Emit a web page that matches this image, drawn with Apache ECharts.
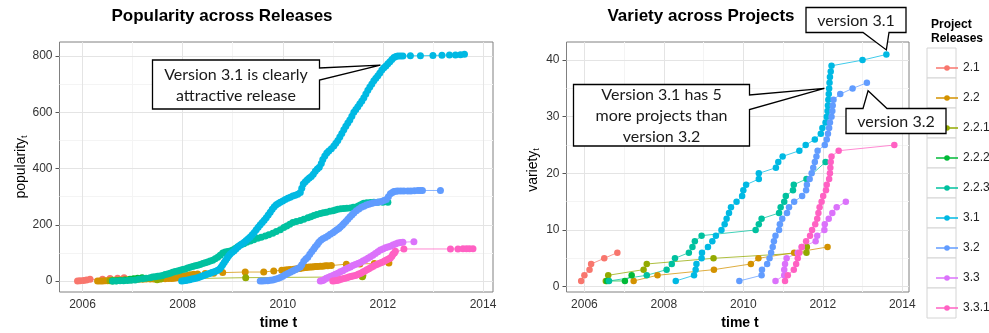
<!DOCTYPE html>
<html>
<head>
<meta charset="utf-8">
<script src="https://cdn.jsdelivr.net/npm/echarts@6/dist/echarts.min.js"></script>
<style>
  html, body { margin: 0; padding: 0; background: #fff; }
  #chart { width: 989px; height: 333px; }
</style>
</head>
<body>
<div id="chart"></div>
<script>
const releases = ['2.1', '2.2', '2.2.1', '2.2.2', '2.2.3', '3.1', '3.2', '3.3', '3.3.1'];
const colors = ['#F8766D', '#D39200', '#93AA00', '#00BA38', '#00C19F', '#00B9E3', '#619CFF', '#DB72FB', '#FF61C3'];

// popularity_t, [year, value]
const pop21 = [[2005.9,0],[2005.95,1],[2006.02,2],[2006.08,4],[2006.15,6],[2006.4,6],[2006.55,9],[2006.7,10],[2006.83,12]];
const pop22 = [[2006.3,0],[2006.35,0],[2006.4,0],[2006.45,1],[2006.5,1],[2006.55,2],[2006.6,3],[2006.67,3],[2006.75,4],[2006.82,4],
  [2006.9,5],[2006.97,5],[2007.05,6],[2007.12,6],[2007.2,6],[2007.27,7],[2007.35,7],[2007.42,7],[2007.5,7],[2007.57,8],[2007.65,8],
  [2007.72,9],[2007.78,9],[2007.83,10],[2007.88,12],[2007.92,13],[2007.96,15],[2008.0,17],[2008.05,19],[2008.1,20],[2008.15,22],
  [2008.22,24],[2008.3,25],[2008.45,27],[2008.62,28],[2008.8,30],[2009.25,32],[2009.62,32],[2009.82,36],[2009.98,38],[2010.05,39],
  [2010.1,40],[2010.15,41],[2010.22,42],[2010.26,43],[2010.3,44],[2010.34,45],[2010.38,46],[2010.42,47],[2010.46,48],[2010.5,49],
  [2010.54,50],[2010.58,50],[2010.62,51],[2010.66,52],[2010.7,52],[2010.75,53],[2010.8,53],[2010.85,54],[2010.9,54],[2010.97,55],
  [2011.27,60],[2011.54,61],[2011.83,62],[2012.12,64]];
const pop221 = [[2006.55,1],[2006.6,3],[2007.49,5],[2007.56,7],[2009.26,12],[2011.59,15],[2011.6,20]];
const pop222 = [[2006.6,0],[2006.68,1],[2006.75,2],[2006.85,4],[2006.95,6],[2007.02,8],[2007.1,10],[2007.19,12]];
const pop223 = [[2006.6,0],[2006.67,0],[2006.75,1],[2006.82,1],[2006.9,2],[2006.97,3],[2007.05,4],[2007.12,6],[2007.2,8],[2007.27,10],
  [2007.35,12],[2007.4,14],[2007.45,15],[2007.5,17],[2007.55,18],[2007.6,20],[2007.65,23],[2007.7,25],[2007.75,28],[2007.8,31],
  [2007.85,34],[2007.9,36],[2007.95,38],[2008.0,41],[2008.05,43],[2008.1,46],[2008.15,49],[2008.2,52],[2008.25,54],[2008.3,56],
  [2008.35,59],[2008.4,62],[2008.45,65],[2008.5,68],[2008.55,71],[2008.6,74],[2008.65,79],[2008.7,85],[2008.75,92],[2008.8,100],
  [2008.85,103],[2008.9,105],[2008.95,107],[2009.0,110],[2009.05,116],[2009.1,122],[2009.16,128],[2009.22,133],[2009.28,138],
  [2009.35,142],[2009.42,147],[2009.5,152],[2009.57,156],[2009.65,160],[2009.72,165],[2009.8,170],[2009.87,176],[2009.95,182],
  [2010.02,190],[2010.08,196],[2010.14,202],[2010.2,208],[2010.27,212],[2010.35,215],[2010.42,220],[2010.5,225],[2010.56,229],
  [2010.62,233],[2010.68,237],[2010.75,240],[2010.81,243],[2010.87,245],[2010.94,248],[2011.0,250],[2011.05,253],[2011.1,255],
  [2011.16,257],[2011.22,258],[2011.28,259],[2011.35,260],[2011.41,262],[2011.47,263],[2011.51,267],[2011.55,270],[2011.59,274],
  [2011.62,277],[2011.68,278],[2011.75,279],[2011.82,280],[2011.9,280],[2012.0,280],[2012.1,280]];
const pop31 = [[2007.98,0],[2008.02,1],[2008.06,2],[2008.1,4],[2008.14,5],[2008.18,7],[2008.22,8],[2008.26,10],[2008.3,12],
  [2008.34,14],[2008.38,17],[2008.42,20],[2008.46,22],[2008.5,25],[2008.54,27],[2008.58,30],[2008.62,32],[2008.66,35],[2008.7,38],
  [2008.74,43],[2008.77,50],[2008.8,58],[2008.83,66],[2008.86,74],[2008.89,82],[2008.92,90],[2008.95,96],[2008.99,102],[2009.03,108],
  [2009.07,115],[2009.11,122],[2009.15,128],[2009.19,133],[2009.23,138],[2009.27,144],[2009.31,150],[2009.35,157],[2009.39,165],
  [2009.43,173],[2009.47,182],[2009.51,191],[2009.55,200],[2009.59,208],[2009.63,216],[2009.67,225],[2009.71,235],[2009.75,245],
  [2009.79,255],[2009.83,264],[2009.87,271],[2009.91,276],[2009.95,280],[2010.0,285],[2010.05,290],[2010.1,294],[2010.15,298],
  [2010.2,302],[2010.25,305],[2010.3,309],[2010.35,315],[2010.38,330],[2010.41,345],[2010.45,353],[2010.49,360],[2010.53,366],
  [2010.57,372],[2010.61,380],[2010.65,390],[2010.69,398],[2010.73,405],[2010.77,418],[2010.8,432],[2010.84,445],[2010.88,455],
  [2010.92,462],[2010.97,470],[2011.02,480],[2011.06,490],[2011.1,500],[2011.14,512],[2011.18,525],[2011.22,538],[2011.26,550],
  [2011.3,562],[2011.34,573],[2011.38,586],[2011.42,600],[2011.46,610],[2011.5,620],[2011.54,630],[2011.58,640],[2011.62,652],
  [2011.66,665],[2011.7,678],[2011.74,690],[2011.78,701],[2011.82,712],[2011.86,721],[2011.9,730],[2011.94,740],[2011.98,750],
  [2012.02,758],[2012.06,765],[2012.1,773],[2012.14,780],[2012.18,788],[2012.22,795],[2012.26,798],[2012.3,800],[2012.35,800],
  [2012.4,800],[2012.55,801],[2012.75,801],[2013.0,802],[2013.18,803],[2013.33,804],[2013.45,804],[2013.55,805],[2013.63,806]];
const pop32 = [[2009.55,0],[2009.6,0],[2009.65,1],[2009.7,1],[2009.75,3],[2009.8,4],[2009.85,6],[2009.9,9],[2009.95,13],[2010.0,17],
  [2010.05,22],[2010.1,27],[2010.15,31],[2010.2,36],[2010.25,40],[2010.3,45],[2010.35,50],[2010.38,58],[2010.42,70],[2010.46,78],
  [2010.5,85],[2010.54,95],[2010.58,105],[2010.62,114],[2010.65,122],[2010.69,130],[2010.72,138],[2010.76,145],[2010.8,150],
  [2010.85,155],[2010.9,160],[2010.95,166],[2011.0,172],[2011.04,177],[2011.08,182],[2011.12,187],[2011.15,192],[2011.19,198],
  [2011.22,205],[2011.26,212],[2011.3,220],[2011.34,228],[2011.38,235],[2011.42,242],[2011.47,250],[2011.52,256],[2011.57,262],
  [2011.62,266],[2011.67,270],[2011.72,273],[2011.77,276],[2011.82,278],[2011.87,279],[2011.92,281],[2011.97,283],[2012.02,286],
  [2012.07,290],[2012.11,300],[2012.15,310],[2012.19,315],[2012.22,318],[2012.26,319],[2012.3,320],[2012.36,320],[2012.42,320],
  [2012.5,320],[2012.56,320],[2012.63,321],[2012.7,322],[2012.75,322],[2012.79,322],[2013.15,322]];
const pop33 = [[2010.75,0],[2010.78,1],[2010.81,3],[2010.84,6],[2010.87,10],[2010.91,13],[2010.95,16],[2011.0,20],[2011.05,24],
  [2011.1,28],[2011.15,33],[2011.2,37],[2011.25,42],[2011.3,46],[2011.35,50],[2011.4,55],[2011.45,59],[2011.5,62],[2011.55,66],
  [2011.6,71],[2011.65,76],[2011.7,81],[2011.75,86],[2011.8,92],[2011.85,98],[2011.9,104],[2011.95,110],[2012.0,114],[2012.05,118],
  [2012.1,121],[2012.15,124],[2012.2,128],[2012.25,132],[2012.3,135],[2012.35,137],[2012.4,138],[2012.62,140]];
const pop331 = [[2011.0,0],[2011.04,1],[2011.08,2],[2011.12,4],[2011.16,6],[2011.2,8],[2011.24,10],[2011.28,12],[2011.32,14],
  [2011.36,16],[2011.4,18],[2011.45,20],[2011.49,22],[2011.52,25],[2011.56,28],[2011.6,32],[2011.64,36],[2011.68,40],[2011.72,44],
  [2011.76,48],[2011.8,52],[2011.84,56],[2011.88,59],[2011.92,62],[2011.96,65],[2012.0,68],[2012.04,72],[2012.08,76],[2012.12,79],
  [2012.15,82],[2012.18,88],[2012.2,95],[2012.23,100],[2012.25,106],[2012.42,114],[2013.35,114],[2013.5,114],[2013.6,115],
  [2013.67,115],[2013.73,115],[2013.8,115]];

// variety_t, [year, value]
const var21 = [[2005.92,1],[2006.0,2],[2006.13,3],[2006.17,4],[2006.5,5],[2006.83,6]];
const var22 = [[2007.24,1],[2007.84,2],[2009.26,3],[2010.19,4],[2010.38,5],[2011.28,6],[2012.12,7]];
const var221 = [[2006.54,1],[2006.6,2],[2007.49,3],[2007.57,4],[2009.25,5],[2011.59,6],[2011.6,7]];
const var222 = [[2006.57,1],[2007.02,1],[2007.19,2]];
const var223 = [[2006.62,1],[2007.57,2],[2008.07,3],[2008.2,4],[2008.28,5],[2008.63,6],[2008.72,7],[2008.78,8],[2008.95,9],
  [2010.31,10],[2010.39,11],[2010.46,12],[2010.9,13],[2010.94,14],[2011.03,15],[2011.07,16],[2011.25,17],[2011.27,18],
  [2011.59,19],[2012.07,22]];
const var31 = [[2008.3,1],[2008.76,2],[2008.8,3],[2008.82,4],[2008.95,5],[2008.96,6],[2009.11,7],[2009.22,8],[2009.31,9],
  [2009.45,10],[2009.53,11],[2009.58,12],[2009.64,13],[2009.69,14],[2009.83,15],[2009.97,16],[2010.0,17],[2010.07,18],
  [2010.39,19],[2010.39,20],[2010.82,21],[2010.88,22],[2010.99,23],[2011.41,24],[2011.57,25],[2011.8,26],[2011.95,27],
  [2011.99,28],[2012.07,29],[2012.1,30],[2012.12,31],[2012.13,32],[2012.14,33],[2012.15,34],[2012.16,35],[2012.17,36],
  [2012.18,37],[2012.2,38],[2012.22,39],[2013.0,40],[2013.6,41]];
const var32 = [[2009.9,1],[2010.46,2],[2010.47,3],[2010.6,4],[2010.66,5],[2010.7,6],[2010.74,7],[2010.77,8],[2010.81,9],
  [2010.9,10],[2010.92,11],[2010.98,12],[2011.1,13],[2011.15,14],[2011.28,15],[2011.48,16],[2011.58,17],[2011.6,18],
  [2011.67,19],[2011.72,20],[2011.76,21],[2011.8,22],[2011.84,23],[2011.87,24],[2012.05,25],[2012.1,26],[2012.13,27],
  [2012.16,28],[2012.18,29],[2012.22,30],[2012.24,31],[2012.25,32],[2012.27,33],[2012.44,34],[2012.75,35],[2013.11,36]];
const var33 = [[2010.81,1],[2011.03,2],[2011.03,3],[2011.05,4],[2011.09,5],[2011.37,6],[2011.47,7],[2011.82,8],[2011.86,9],
  [2012.04,10],[2012.05,11],[2012.15,12],[2012.24,13],[2012.35,14],[2012.58,15]];
const var331 = [[2011.05,1],[2011.12,2],[2011.27,3],[2011.33,4],[2011.37,5],[2011.41,6],[2011.47,7],[2011.58,8],[2011.68,9],
  [2011.73,10],[2011.81,11],[2011.86,12],[2011.89,13],[2011.92,14],[2011.97,15],[2012.01,16],[2012.08,17],[2012.1,18],
  [2012.16,19],[2012.18,20],[2012.19,21],[2012.2,22],[2012.22,23],[2012.4,24],[2013.8,25]];

const popularity = [pop21, pop22, pop221, pop222, pop223, pop31, pop32, pop33, pop331];
const variety = [var21, var22, var221, var222, var223, var31, var32, var33, var331];

const yearTicks = [2006, 2008, 2010, 2012, 2014];
const yearMinor = [2007, 2009, 2011, 2013];
const popTicks = [0, 200, 400, 600, 800];
const popMinor = [100, 300, 500, 700];
const varTicks = [0, 10, 20, 30, 40];
const varMinor = [5, 15, 25, 35];

const FONT = 'Liberation Sans, Arial, sans-serif';
const NOTE_FONT = 'Lato, "Open Sans", sans-serif';

const chart = echarts.init(document.getElementById('chart'));

function gridLines(xMajor, xMinor, yMajor, yMinor) {
  const major = { color: '#e4e4e4', width: 1, type: 'solid' };
  const minor = { color: '#f4f4f4', width: 1, type: 'solid' };
  const data = [];
  xMinor.forEach(v => data.push({ xAxis: v, lineStyle: minor }));
  yMinor.forEach(v => data.push({ yAxis: v, lineStyle: minor }));
  xMajor.forEach(v => data.push({ xAxis: v, lineStyle: major }));
  yMajor.forEach(v => data.push({ yAxis: v, lineStyle: major }));
  return {
    silent: true,
    symbol: ['none', 'none'],
    label: { show: false },
    emphasis: { disabled: true },
    animation: false,
    z: 1,
    data: data
  };
}

function xAxisFor(idx, min, max) {
  return {
    type: 'value', gridIndex: idx, min: min, max: max,
    splitLine: { show: false },
    axisLine: { show: false },
    axisTick: { show: true, length: 4, customValues: yearTicks, lineStyle: { color: '#555' } },
    axisLabel: { customValues: yearTicks, color: '#333', fontSize: 12, fontFamily: FONT, margin: 7, formatter: v => String(v) }
  };
}

function yAxisFor(idx, min, max, ticks) {
  return {
    type: 'value', gridIndex: idx, min: min, max: max,
    splitLine: { show: false },
    axisLine: { show: false },
    axisTick: { show: true, length: 4, customValues: ticks, lineStyle: { color: '#555' } },
    axisLabel: { customValues: ticks, color: '#333', fontSize: 12, fontFamily: FONT, margin: 7, formatter: v => String(v) }
  };
}

const series = [];
[popularity, variety].forEach((set, g) => {
  set.forEach((data, i) => {
    const s = {
      name: releases[i],
      type: 'line',
      xAxisIndex: g,
      yAxisIndex: g,
      data: data,
      symbol: 'circle',
      symbolSize: g === 0 ? 7 : 6.5,
      itemStyle: { color: colors[i] },
      lineStyle: { color: colors[i], width: 1, opacity: 0.75 },
      emphasis: { disabled: true },
      z: 2
    };
    if (i === 0) {
      s.markLine = g === 0
        ? gridLines(yearTicks, yearMinor, popTicks, popMinor)
        : gridLines(yearTicks, yearMinor, varTicks, varMinor);
    }
    series.push(s);
  });
});

chart.setOption({
  animation: false,
  backgroundColor: '#fff',
  grid: [
    { left: 59.5, top: 42, width: 433.5, height: 250, show: true, backgroundColor: '#fff', borderColor: '#808080', borderWidth: 1 },
    { left: 566.5, top: 42, width: 342.5, height: 250, show: true, backgroundColor: '#fff', borderColor: '#808080', borderWidth: 1 }
  ],
  xAxis: [xAxisFor(0, 2005.54, 2014.2), xAxisFor(1, 2005.55, 2014.17)],
  yAxis: [yAxisFor(0, -39, 850, popTicks), yAxisFor(1, -0.95, 43.2, varTicks)],
  legend: {
    orient: 'vertical',
    left: 930,
    top: 56,
    itemWidth: 22,
    itemHeight: 7,
    itemGap: 16,
    selectedMode: false,
    data: releases,
    lineStyle: { width: 2 },
    textStyle: { fontSize: 12, lineHeight: 14, fontFamily: FONT, color: '#222' }
  },
  series: series
});

// callout boxes: a rectangle with a wedge pointing at a data position
function tip(g, pt) {
  return chart.convertToPixel({ xAxisIndex: g, yAxisIndex: g }, pt);
}

function calloutRight(x0, y0, x1, y1, w0, w1, t) {
  return [[x0, y0], [x1, y0], [x1, w0], t, [x1, w1], [x1, y1], [x0, y1]];
}
function calloutBottom(x0, y0, x1, y1, w0, w1, t) {
  return [[x0, y0], [x1, y0], [x1, y1], [w1, y1], t, [w0, y1], [x0, y1]];
}
function calloutTop(x0, y0, x1, y1, w0, w1, t) {
  return [[x0, y0], [w0, y0], t, [w1, y0], [x1, y0], [x1, y1], [x0, y1]];
}

const tipPop = tip(0, [2011.95, 768]);
const tipVar = tip(1, [2012.04, 35]);
const tip31 = tip(1, [2013.6, 41.8]);
const tip32 = tip(1, [2013.14, 34.6]);

function note(points, cx, cy, text, lh) {
  return [
    { type: 'polygon', z: 10, shape: { points: points }, style: { fill: '#fff', stroke: '#000', lineWidth: 1.3 } },
    { type: 'text', z: 11, x: cx, y: cy, style: { text: text, align: 'center', verticalAlign: 'middle', fill: '#1a1a1a', fontSize: 16, fontFamily: NOTE_FONT, lineHeight: lh } }
  ];
}

const legendKeys = releases.map((r, i) => ({
  type: 'rect', z: 0, shape: { x: 927, y: 48 + i * 30, width: 29, height: 30 },
  style: { fill: '#fff', stroke: '#d4d4d4', lineWidth: 1 }
}));

chart.setOption({
  graphic: [
    ...legendKeys,
    { type: 'text', x: 222, y: 16, style: { text: 'Popularity across Releases', align: 'center', verticalAlign: 'middle', fontSize: 17, fontWeight: 'bold', fontFamily: FONT, fill: '#000' } },
    { type: 'text', x: 701, y: 16, style: { text: 'Variety across Projects', align: 'center', verticalAlign: 'middle', fontSize: 17, fontWeight: 'bold', fontFamily: FONT, fill: '#000' } },
    { type: 'text', x: 278.5, y: 323, style: { text: 'time t', align: 'center', verticalAlign: 'middle', fontSize: 14, fontWeight: 'bold', fontFamily: FONT, fill: '#000' } },
    { type: 'text', x: 740, y: 323, style: { text: 'time t', align: 'center', verticalAlign: 'middle', fontSize: 14, fontWeight: 'bold', fontFamily: FONT, fill: '#000' } },
    { type: 'text', x: 21, y: 167, rotation: Math.PI / 2, style: {
        text: '{a|popularity}{b|t}', align: 'center', verticalAlign: 'middle',
        rich: { a: { fontSize: 14, fontFamily: FONT, fill: '#000', lineHeight: 14, verticalAlign: 'top' },
                b: { fontSize: 9, fontFamily: FONT, fill: '#000', lineHeight: 9, padding: [8, 0, 0, 0] } } } },
    { type: 'text', x: 533, y: 170, rotation: Math.PI / 2, style: {
        text: '{a|variety}{b|t}', align: 'center', verticalAlign: 'middle',
        rich: { a: { fontSize: 14, fontFamily: FONT, fill: '#000', lineHeight: 14, verticalAlign: 'top' },
                b: { fontSize: 9, fontFamily: FONT, fill: '#000', lineHeight: 9, padding: [8, 0, 0, 0] } } } },
    { type: 'text', x: 931, y: 18, style: { text: 'Project\nReleases', fontSize: 12, fontWeight: 'bold', fontFamily: FONT, fill: '#000', lineHeight: 13.5 } },
    ...note(calloutRight(152.5, 60, 319.5, 109, 68, 80, tipPop), 236, 85, 'Version 3.1 is clearly\nattractive release', 20.7),
    ...note(calloutRight(573.5, 84.5, 749.5, 146, 95, 109.5, tipVar), 661.5, 116, 'Version 3.1 has 5\nmore projects than\nversion 3.2', 21),
    ...note(calloutBottom(806, 7.5, 906, 32.5, 863, 889, tip31), 856, 20.5, 'version 3.1', 20),
    ...note(calloutTop(846, 108.5, 946, 133.5, 863, 887, tip32), 896, 121.5, 'version 3.2', 20)
  ]
});
</script>
</body>
</html>
